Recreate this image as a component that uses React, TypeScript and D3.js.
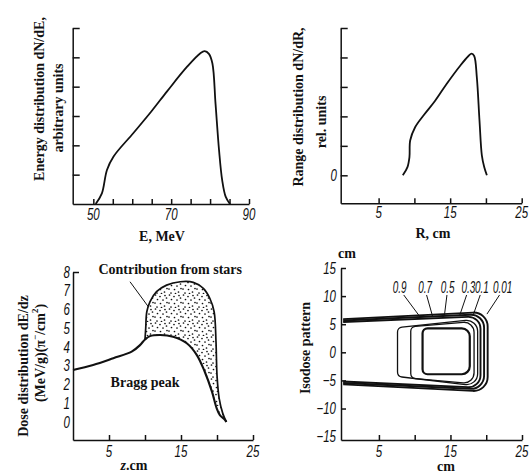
import React, { useEffect, useRef } from 'react';
import * as d3 from 'd3';

// top left: energy distribution
const energyMeV = [50.6, 52.2, 53.5, 55.2, 60.3, 65.0, 69.0, 74.1, 77.5, 78.6, 79.7, 80.6, 81.4, 82.3, 83.1, 84.0, 85.1];
const energyDn = [0, 0.36, 1.16, 1.62, 2.42, 3.17, 3.85, 4.68, 5.14, 5.21, 5.12, 4.79, 3.42, 1.84, 0.82, 0.25, 0];
const energyTicks = [50, 55, 60, 65, 70, 75, 80, 85, 90];
const energyLabels = [50, 70, 90];

// top right: range distribution
const rangeCm = [8.38, 9.03, 9.31, 9.41, 10.1, 11.27, 12.9, 14.5, 16.4, 17.56, 18.0, 18.36, 18.73, 19.1, 19.43, 19.76, 20.13];
const rangeDn = [0, 0.28, 0.62, 1.18, 1.63, 2.03, 2.53, 3.1, 3.72, 4.05, 4.13, 4.05, 3.32, 1.86, 0.68, 0.28, 0];
const cmTicks = [5, 10, 15, 20, 25];
const cmLabels = [5, 15, 25];

// bottom left: dose distribution
const braggZ = [0, 2.8, 5.6, 8.15, 9.3, 10.0, 10.7, 12.1, 13.9, 15.8, 17.2, 18.3, 19.3, 19.96, 20.4, 21.1, 21.3];
const braggDose = [2.77, 3.04, 3.4, 3.75, 4.1, 4.4, 4.58, 4.64, 4.55, 4.2, 3.57, 2.68, 1.62, 0.73, 0.37, 0.12, 0];
const starsZ = [10.0, 10.1, 10.25, 10.7, 11.6, 13.0, 14.9, 16.7, 18.1, 19.0, 19.6, 19.86, 20.0, 20.3, 20.8, 21.3];
const starsDose = [4.4, 5.0, 5.88, 6.42, 6.95, 7.3, 7.48, 7.45, 7.13, 6.6, 5.88, 4.28, 2.5, 1.26, 0.46, 0];
const doseTicks = [0, 1, 2, 3, 4, 5, 6, 7, 8];

// bottom right: isodose pattern
const isoLevels = ['0.9', '0.7', '0.5', '0.3', '0.1', '0.01'];
const isoLeft = [11.1, 9.45, 7.6, 0, 0, 0];
const isoRight = [17.7, 18.3, 18.8, 19.2, 19.7, 20.2];
const isoTopStart = [4.27, 4.55, 4.4, 5.4, 5.65, 5.9];
const isoTopEnd = [4.27, 5.5, 5.9, 6.4, 6.8, 7.2];
const isoBottomStart = [-3.9, -4.6, -4.3, -5.2, -5.45, -5.7];
const isoBottomEnd = [-3.9, -5.6, -6.0, -6.3, -6.6, -7.0];
const isoLabelZ = [7.9, 11.45, 14.6, 17.5, 19.4, 22.3];
const isoLeaderZ = [10.75, 12.5, 14.15, 16.3, 18.2, 20.1];
const isoTicks = [-10, -5, 0, 5, 10, 15];
const isoTickLabels = [15, 10, 5, 0, -5, -10, -15];

const SERIF_FAMILY = "'Liberation Serif', 'Times New Roman', serif";
const SANS_FAMILY = "'Liberation Sans', Arial, sans-serif";

function num(g: any, x: number, y: number, t: string, anchor = 'middle', sx = 0.72) {
  g.append('text')
    .attr('transform', `translate(${x},${y}) scale(${sx},1)`)
    .attr('text-anchor', anchor)
    .attr('dominant-baseline', anchor === 'end' ? 'central' : 'auto')
    .attr('font-family', SANS_FAMILY)
    .attr('font-style', 'italic')
    .attr('font-size', 16)
    .attr('fill', '#111')
    .text(t);
}

function serif(g: any, x: number, y: number, t: string, rotate = false) {
  return g.append('text')
    .attr('transform', rotate ? `translate(${x},${y}) rotate(-90)` : `translate(${x},${y})`)
    .attr('text-anchor', 'middle')
    .attr('dominant-baseline', rotate ? 'central' : 'auto')
    .attr('font-family', SERIF_FAMILY)
    .attr('font-weight', 'bold')
    .attr('font-size', 14)
    .attr('fill', '#111')
    .text(t);
}

function axes(g: any, x: any, y: any, xTicks: number[], yTicks: number[], ySize = 7) {
  const xa = g.append('g')
    .attr('transform', `translate(0,${y.range()[0]})`)
    .call(d3.axisBottom(x).tickValues(xTicks).tickSizeInner(-5).tickSizeOuter(0).tickFormat(() => ''));
  const ya = g.append('g')
    .attr('transform', `translate(${x.range()[0]},0)`)
    .call(d3.axisLeft(y).tickValues(yTicks).tickSizeInner(-ySize).tickSizeOuter(0).tickFormat(() => ''));
  [xa, ya].forEach(a => {
    a.selectAll('path, line').attr('stroke', '#111').attr('stroke-width', 1.5);
    a.selectAll('text').remove();
  });
}

export default function App() {
  const ref = useRef<SVGSVGElement>(null);

  useEffect(() => {
    const svg = d3.select(ref.current);
    svg.selectAll('*').remove();
    const smooth = d3.curveCatmullRom.alpha(0.5);

    // stipple texture for the star contribution
    const pat = svg.append('defs').append('pattern')
      .attr('id', 'stipple').attr('patternUnits', 'userSpaceOnUse')
      .attr('width', 14).attr('height', 14);
    [[1.5, 1], [6, 2.5], [11, 1.5], [3.5, 5.5], [9, 6], [13, 8.5], [1, 9], [6.5, 9.5], [10.5, 12], [3, 13], [7.5, 13.5], [12.5, 4]]
      .forEach(([cx, cy]) => pat.append('circle').attr('cx', cx).attr('cy', cy).attr('r', 0.85).attr('fill', '#111'));

    // ---- panel 1: energy
    const x1 = d3.scaleLinear().domain([44.7, 90]).range([72.7, 249]);
    const y1 = d3.scaleLinear().domain([0, 6]).range([204, 28]);
    const g1 = svg.append('g');
    axes(g1, x1, y1, energyTicks, [1, 2, 3, 4, 5, 6]);
    g1.append('path')
      .datum(energyMeV.map((e, i) => [e, energyDn[i]]))
      .attr('d', d3.line<any>().x(d => x1(d[0])).y(d => y1(d[1])).curve(smooth))
      .attr('fill', 'none').attr('stroke', '#111').attr('stroke-width', 1.8);
    energyLabels.forEach(v => num(g1, x1(v), 220, String(v)));
    serif(g1, 39, 99, 'Energy distribution dN/dE,', true);
    serif(g1, 58, 108, 'arbitrary units', true);
    serif(g1, 162, 241, 'E, MeV');

    // ---- panel 2: range
    const x2 = d3.scaleLinear().domain([-0.3, 25]).range([340.7, 521.7]);
    const y2 = d3.scaleLinear().domain([-0.95, 5]).range([203.3, 28]);
    const g2 = svg.append('g');
    axes(g2, x2, y2, cmTicks, [0, 1, 2, 3, 4, 5]);
    g2.append('path')
      .datum(rangeCm.map((r, i) => [r, rangeDn[i]]))
      .attr('d', d3.line<any>().x(d => x2(d[0])).y(d => y2(d[1])).curve(smooth))
      .attr('fill', 'none').attr('stroke', '#111').attr('stroke-width', 1.8);
    cmLabels.forEach(v => num(g2, x2(v), 218, String(v)));
    num(g2, 337, y2(0), '0', 'end');
    serif(g2, 298, 107, 'Range distribution dN/dR,', true);
    serif(g2, 321, 122, 'rel. units', true);
    serif(g2, 433, 238, 'R, cm');

    // ---- panel 3: dose
    const x3 = d3.scaleLinear().domain([0, 25]).range([73, 253]);
    const y3 = d3.scaleLinear().domain([-0.96, 8]).range([440, 272]);
    const g3 = svg.append('g');
    axes(g3, x3, y3, cmTicks, [8], 6);
    const line3 = d3.line<any>().x(d => x3(d[0])).y(d => y3(d[1])).curve(smooth);
    const lower = braggZ.map((z, i) => [z, braggDose[i]]);
    const upper = starsZ.map((z, i) => [z, starsDose[i]]);
    const lowerBack = lower.filter(d => d[0] >= starsZ[0]).reverse();
    g3.append('path')
      .attr('d', (line3(upper) as string) + 'L' + (line3(lowerBack) as string).slice(1) + 'Z')
      .attr('fill', 'url(#stipple)').attr('stroke', 'none');
    g3.append('path').attr('d', line3(upper))
      .attr('fill', 'none').attr('stroke', '#111').attr('stroke-width', 1.7);
    g3.append('path').attr('d', line3(lower))
      .attr('fill', 'none').attr('stroke', '#111').attr('stroke-width', 2.1);
    doseTicks.forEach(v => num(g3, 70, y3(v), String(v), 'end'));
    cmLabels.forEach(v => num(g3, x3(v), 457, String(v)));
    g3.append('line')
      .attr('x1', x3(7.92)).attr('y1', y3(7.48)).attr('x2', x3(10.46)).attr('y2', y3(6.15))
      .attr('stroke', '#111').attr('stroke-width', 1);
    serif(g3, x3(13.5), y3(7.9), 'Contribution from stars');
    serif(g3, x3(10), y3(1.87), 'Bragg peak');
    serif(g3, 23, 366, 'Dose distribution dE/dz', true);
    const t3 = serif(g3, 40, 353, '', true);
    t3.append('tspan').text('(MeV/g)(π');
    t3.append('tspan').attr('dy', -5).attr('font-size', 9).text('−');
    t3.append('tspan').attr('dy', 5).text('/cm');
    t3.append('tspan').attr('dy', -5).attr('font-size', 9).text('2');
    t3.append('tspan').attr('dy', 5).text(')');
    const zl = serif(g3, 134, 470, '');
    zl.append('tspan').attr('font-style', 'italic').text('z');
    zl.append('tspan').text('.cm');

    // ---- panel 4: isodose
    const x4 = d3.scaleLinear().domain([-0.3, 25]).range([341, 522]);
    const y4 = d3.scaleLinear().domain([-15.6, 15]).range([440, 268]);
    const g4 = svg.append('g');
    axes(g4, x4, y4, cmTicks, isoTicks, 5);
    isoLevels.forEach((lv, i) => {
      const p = d3.path();
      const l = x4(isoLeft[i]), r = x4(isoRight[i]);
      const tl = y4(isoTopStart[i]), tr = y4(isoTopEnd[i]);
      const bl = y4(isoBottomStart[i]), br = y4(isoBottomEnd[i]);
      const rr = i === 0 ? 8 : 9 + i;
      if (isoLeft[i] > 0) {
        p.moveTo(l, (tl + bl) / 2);
        p.arcTo(l, tl, r, tr, 5);
        p.arcTo(r, tr, r, br, rr);
        p.arcTo(r, br, l, bl, rr);
        p.arcTo(l, bl, l, tl, 5);
        p.closePath();
      } else {
        p.moveTo(l, tl);
        p.arcTo(r, tr, r, br, rr);
        p.arcTo(r, br, l, bl, rr);
        p.lineTo(l, bl);
      }
      g4.append('path').attr('d', p.toString())
        .attr('fill', 'none').attr('stroke', '#111')
        .attr('stroke-width', i === 0 ? 2.2 : isoLeft[i] > 0 ? 1.3 : 1.9);
      num(g4, x4(isoLabelZ[i]), y4(10.6), lv, 'middle', 0.62);
      g4.append('line')
        .attr('x1', x4(isoLabelZ[i] + (isoLeaderZ[i] - isoLabelZ[i]) * 0.2)).attr('y1', y4(10.2))
        .attr('x2', x4(isoLeaderZ[i])).attr('y2', y4(6.3 + i * 0.1))
        .attr('stroke', '#111').attr('stroke-width', 1);
    });
    isoTickLabels.forEach(v => num(g4, 336, y4(v), v < 0 ? '−' + Math.abs(v) : String(v), 'end'));
    cmLabels.forEach(v => num(g4, x4(v), 457, String(v)));
    serif(g4, 347, 258, 'cm');
    serif(g4, 446, 471, 'cm');
    serif(g4, 305, 348, 'Isodose pattern', true);
  }, []);

  return (
    <svg ref={ref} width={529} height={473}
      style={{ position: 'absolute', left: 0, top: 0, background: '#fff' }} />
  );
}
